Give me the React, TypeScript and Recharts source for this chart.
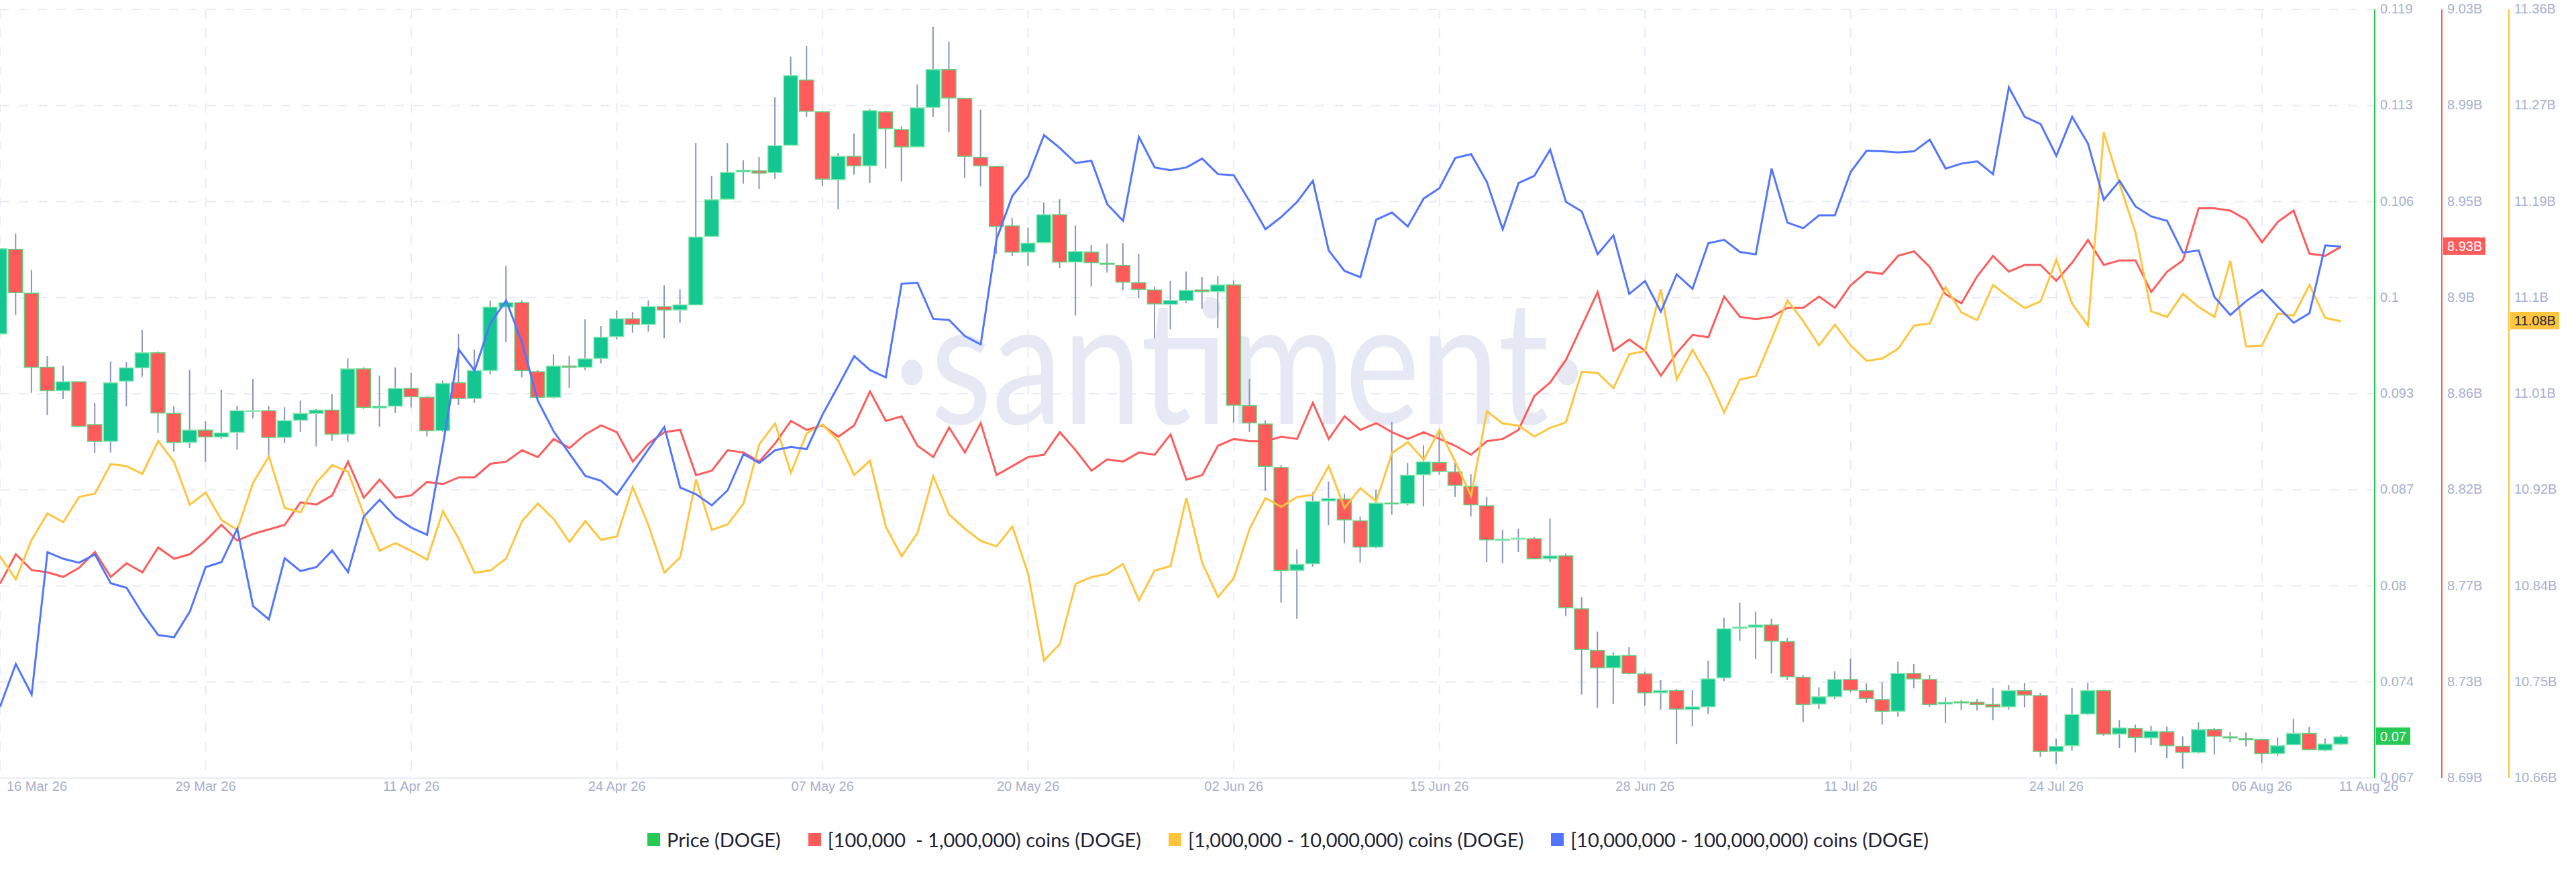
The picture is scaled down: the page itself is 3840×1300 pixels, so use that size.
import { Bar, CartesianGrid, ComposedChart, Legend, Line, XAxis, YAxis } from 'recharts';

const WIDTH = 3840;
const HEIGHT = 1300;

// days since 16 Mar 26
const gridDays = [0, 13, 26, 39, 52, 65, 78, 91, 104, 117, 130, 143];
const tickDays = [...gridDays, 148];
const tickDates = ['16 Mar 26', '29 Mar 26', '11 Apr 26', '24 Apr 26', '07 May 26', '20 May 26', '02 Jun 26', '15 Jun 26', '28 Jun 26', '11 Jul 26', '24 Jul 26', '06 Aug 26', '11 Aug 26'];

const seriesNames = ['Price (DOGE)', '[100,000  - 1,000,000) coins (DOGE)', '[1,000,000 - 10,000,000) coins (DOGE)', '[10,000,000 - 100,000,000) coins (DOGE)'];
const seriesColors = ['#26c953', '#ff5b5b', '#ffc53d', '#5275ff'];

const priceTicks = [0.119, 0.1125, 0.106, 0.0995, 0.093, 0.0865, 0.08, 0.0735, 0.067];
const priceLabels = ['0.119', '0.113', '0.106', '0.1', '0.093', '0.087', '0.08', '0.074', '0.067'];
const smallTicks = [9.03, 8.9875, 8.945, 8.9025, 8.86, 8.8175, 8.775, 8.7325, 8.69];
const smallLabels = ['9.03B', '8.99B', '8.95B', '8.9B', '8.86B', '8.82B', '8.77B', '8.73B', '8.69B'];
const midTicks = [11.36, 11.2725, 11.185, 11.0975, 11.01, 10.9225, 10.835, 10.7475, 10.66];
const midLabels = ['11.36B', '11.27B', '11.19B', '11.1B', '11.01B', '10.92B', '10.84B', '10.75B', '10.66B'];

const priceOpen = [0.09705, 0.10277, 0.0998, 0.09479, 0.09321, 0.09381, 0.09091, 0.08978, 0.09385, 0.09475, 0.09577, 0.09167, 0.08971, 0.09054, 0.09008, 0.09039, 0.09182, 0.09185, 0.09005, 0.09121, 0.09167, 0.09189, 0.09027, 0.09468, 0.09204, 0.09216, 0.09336, 0.09276, 0.0905, 0.09374, 0.09268, 0.09457, 0.09886, 0.09916, 0.09449, 0.09276, 0.09487, 0.09479, 0.09539, 0.09686, 0.09807, 0.09769, 0.09889, 0.09867, 0.09901, 0.10364, 0.10616, 0.10801, 0.10808, 0.10797, 0.10981, 0.11422, 0.11207, 0.10748, 0.10906, 0.10842, 0.11207, 0.11087, 0.1097, 0.11237, 0.11493, 0.11298, 0.10899, 0.10838, 0.10435, 0.10258, 0.10322, 0.10511, 0.10191, 0.10258, 0.10183, 0.10168, 0.10051, 0.10002, 0.09905, 0.09931, 0.10002, 0.09991, 0.10036, 0.09219, 0.09095, 0.08801, 0.08105, 0.0815, 0.08575, 0.08587, 0.0844, 0.08263, 0.0856, 0.08557, 0.08752, 0.08835, 0.08771, 0.08673, 0.08542, 0.08308, 0.08316, 0.08319, 0.08184, 0.08203, 0.07845, 0.07563, 0.07446, 0.07529, 0.07405, 0.07277, 0.07292, 0.07164, 0.07182, 0.07378, 0.07713, 0.07721, 0.07736, 0.07623, 0.07382, 0.07201, 0.0725, 0.07367, 0.07292, 0.07231, 0.07152, 0.07408, 0.07367, 0.07201, 0.07216, 0.07213, 0.07198, 0.07182, 0.07292, 0.07258, 0.06881, 0.06919, 0.07134, 0.07292, 0.06998, 0.07036, 0.06972, 0.07013, 0.06915, 0.06874, 0.07028, 0.06979, 0.06968, 0.0696, 0.06866, 0.06926, 0.07002, 0.06889, 0.0693];
const priceClose = [0.10281, 0.09984, 0.09479, 0.09321, 0.09381, 0.0908, 0.08978, 0.09374, 0.09475, 0.09577, 0.0917, 0.08971, 0.09054, 0.09008, 0.09035, 0.09185, 0.09185, 0.09005, 0.09118, 0.09167, 0.09189, 0.09027, 0.09468, 0.09208, 0.09216, 0.09336, 0.0928, 0.0905, 0.0937, 0.09268, 0.09457, 0.09886, 0.09916, 0.09457, 0.09276, 0.09487, 0.09479, 0.09536, 0.09682, 0.09807, 0.09769, 0.09889, 0.09867, 0.09901, 0.1036, 0.10612, 0.10797, 0.10812, 0.10793, 0.10978, 0.11452, 0.11211, 0.10752, 0.10906, 0.10842, 0.11215, 0.11094, 0.1097, 0.11234, 0.11493, 0.11301, 0.10906, 0.10842, 0.10432, 0.10258, 0.10319, 0.10511, 0.10191, 0.10262, 0.10187, 0.10176, 0.10055, 0.10006, 0.09908, 0.09931, 0.09999, 0.09991, 0.10036, 0.09223, 0.09103, 0.08809, 0.08105, 0.08146, 0.08572, 0.08591, 0.08447, 0.08263, 0.0856, 0.08557, 0.08749, 0.08839, 0.08775, 0.08681, 0.08549, 0.08312, 0.08316, 0.08323, 0.08184, 0.08203, 0.07853, 0.0757, 0.07446, 0.07529, 0.07408, 0.07277, 0.07292, 0.07167, 0.07182, 0.07371, 0.0771, 0.07721, 0.07736, 0.07627, 0.07386, 0.07198, 0.0725, 0.07367, 0.07295, 0.07239, 0.07152, 0.07408, 0.07371, 0.07198, 0.07213, 0.07209, 0.07198, 0.07182, 0.07292, 0.07262, 0.06881, 0.06915, 0.0713, 0.07292, 0.06998, 0.07039, 0.06975, 0.07017, 0.06919, 0.06874, 0.07028, 0.06983, 0.06972, 0.0696, 0.06866, 0.06919, 0.07002, 0.06893, 0.0693, 0.06979];
const priceHigh = [0.10281, 0.10383, 0.10138, 0.09554, 0.0949, 0.09381, 0.09238, 0.09517, 0.09513, 0.09731, 0.09585, 0.09216, 0.0946, 0.09114, 0.09328, 0.09219, 0.094, 0.09219, 0.09208, 0.09253, 0.09197, 0.09298, 0.09539, 0.09479, 0.09423, 0.09479, 0.09441, 0.09283, 0.09389, 0.09705, 0.096, 0.09931, 0.10164, 0.09931, 0.0946, 0.09566, 0.09554, 0.09803, 0.09758, 0.09863, 0.09852, 0.09931, 0.10033, 0.10006, 0.10996, 0.10774, 0.10996, 0.1088, 0.10902, 0.11305, 0.1158, 0.11652, 0.11211, 0.10929, 0.1106, 0.11226, 0.11215, 0.11109, 0.11392, 0.11783, 0.11682, 0.11298, 0.11222, 0.10838, 0.10488, 0.10424, 0.10594, 0.10616, 0.10439, 0.10307, 0.10315, 0.10319, 0.10247, 0.10025, 0.10063, 0.10127, 0.10089, 0.10097, 0.10066, 0.094, 0.09121, 0.08816, 0.08248, 0.08632, 0.08707, 0.08624, 0.0847, 0.08651, 0.0911, 0.08832, 0.08952, 0.09046, 0.08854, 0.08756, 0.08602, 0.0838, 0.08387, 0.08331, 0.08455, 0.08218, 0.07924, 0.07691, 0.07551, 0.07585, 0.0742, 0.07363, 0.07303, 0.07295, 0.07495, 0.07785, 0.07887, 0.07826, 0.07777, 0.07649, 0.07397, 0.07314, 0.07423, 0.0751, 0.07341, 0.07348, 0.07487, 0.07472, 0.07397, 0.07246, 0.07228, 0.07235, 0.0731, 0.07329, 0.07344, 0.07277, 0.06968, 0.0731, 0.07344, 0.07292, 0.07092, 0.07062, 0.07054, 0.07047, 0.06983, 0.07077, 0.07039, 0.07013, 0.07009, 0.06968, 0.06975, 0.071, 0.07047, 0.06968, 0.0699];
const priceLow = [0.09705, 0.09833, 0.09306, 0.09155, 0.09264, 0.0908, 0.08899, 0.08903, 0.09216, 0.09415, 0.09035, 0.08907, 0.08933, 0.08839, 0.08997, 0.08922, 0.09133, 0.08884, 0.08967, 0.09042, 0.08944, 0.08982, 0.08975, 0.09197, 0.09076, 0.0917, 0.09208, 0.09012, 0.09042, 0.09223, 0.09238, 0.0943, 0.09649, 0.09411, 0.09268, 0.09268, 0.0934, 0.0946, 0.09505, 0.09667, 0.09713, 0.0972, 0.09675, 0.0978, 0.09901, 0.10364, 0.10616, 0.10722, 0.10684, 0.10752, 0.10981, 0.11173, 0.10706, 0.10548, 0.10782, 0.10725, 0.10823, 0.10737, 0.1097, 0.11173, 0.11068, 0.10759, 0.10703, 0.10247, 0.10232, 0.10164, 0.10322, 0.10149, 0.09829, 0.10025, 0.10119, 0.09999, 0.09946, 0.09675, 0.09735, 0.09912, 0.09874, 0.09743, 0.09103, 0.09042, 0.08643, 0.07887, 0.07777, 0.08131, 0.0841, 0.08289, 0.08158, 0.08255, 0.08481, 0.08545, 0.08538, 0.08752, 0.08602, 0.0847, 0.08161, 0.08154, 0.08229, 0.0818, 0.08161, 0.07796, 0.07265, 0.07175, 0.07201, 0.07401, 0.0719, 0.07164, 0.0693, 0.07051, 0.07134, 0.07356, 0.07627, 0.07506, 0.07408, 0.07363, 0.07077, 0.07167, 0.07235, 0.0728, 0.07209, 0.07062, 0.07115, 0.07307, 0.07182, 0.07073, 0.0716, 0.07156, 0.07092, 0.07164, 0.07179, 0.06844, 0.06795, 0.06885, 0.07126, 0.06987, 0.06904, 0.06874, 0.06923, 0.06836, 0.06764, 0.06866, 0.06859, 0.06945, 0.06915, 0.06802, 0.06851, 0.06923, 0.06889, 0.06881, 0.06923];

const holdersSmall = [8.776, 8.789, 8.782, 8.781, 8.779, 8.783, 8.79, 8.779, 8.785, 8.781, 8.792, 8.787, 8.789, 8.795, 8.802, 8.795, 8.798, 8.8, 8.802, 8.812, 8.811, 8.815, 8.83, 8.814, 8.822, 8.814, 8.815, 8.821, 8.82, 8.823, 8.823, 8.829, 8.83, 8.835, 8.832, 8.84, 8.836, 8.842, 8.846, 8.843, 8.83, 8.838, 8.843, 8.844, 8.824, 8.826, 8.835, 8.834, 8.83, 8.838, 8.848, 8.844, 8.846, 8.841, 8.846, 8.861, 8.848, 8.85, 8.837, 8.832, 8.845, 8.834, 8.847, 8.824, 8.828, 8.832, 8.833, 8.843, 8.835, 8.826, 8.831, 8.83, 8.834, 8.833, 8.842, 8.822, 8.824, 8.837, 8.84, 8.839, 8.839, 8.841, 8.84, 8.856, 8.84, 8.85, 8.844, 8.847, 8.843, 8.84, 8.843, 8.84, 8.837, 8.833, 8.839, 8.84, 8.844, 8.859, 8.865, 8.875, 8.89, 8.905, 8.879, 8.884, 8.879, 8.868, 8.878, 8.886, 8.885, 8.903, 8.894, 8.893, 8.894, 8.898, 8.898, 8.903, 8.898, 8.908, 8.914, 8.913, 8.921, 8.923, 8.916, 8.904, 8.9, 8.912, 8.921, 8.914, 8.917, 8.917, 8.91, 8.918, 8.928, 8.917, 8.919, 8.919, 8.905, 8.914, 8.919, 8.942, 8.942, 8.941, 8.937, 8.927, 8.936, 8.941, 8.922, 8.921, 8.925];
const holdersMid = [10.862, 10.841, 10.877, 10.901, 10.893, 10.916, 10.919, 10.946, 10.944, 10.937, 10.967, 10.948, 10.909, 10.92, 10.895, 10.886, 10.929, 10.953, 10.906, 10.902, 10.929, 10.945, 10.939, 10.9, 10.867, 10.874, 10.867, 10.859, 10.903, 10.878, 10.847, 10.849, 10.86, 10.894, 10.91, 10.896, 10.875, 10.894, 10.877, 10.88, 10.925, 10.89, 10.847, 10.861, 10.932, 10.886, 10.891, 10.91, 10.964, 10.983, 10.938, 10.974, 10.982, 10.967, 10.936, 10.949, 10.889, 10.862, 10.883, 10.935, 10.9, 10.887, 10.876, 10.871, 10.889, 10.846, 10.767, 10.782, 10.837, 10.843, 10.846, 10.855, 10.822, 10.849, 10.853, 10.915, 10.856, 10.825, 10.842, 10.887, 10.915, 10.907, 10.916, 10.918, 10.944, 10.906, 10.924, 10.912, 10.956, 10.966, 10.95, 10.977, 10.948, 10.917, 10.994, 10.983, 10.981, 10.971, 10.979, 10.984, 11.03, 11.029, 11.015, 11.046, 11.049, 11.105, 11.023, 11.05, 11.025, 10.993, 11.023, 11.026, 11.06, 11.095, 11.076, 11.054, 11.073, 11.054, 11.04, 11.042, 11.051, 11.072, 11.074, 11.107, 11.084, 11.077, 11.109, 11.098, 11.088, 11.094, 11.132, 11.092, 11.072, 11.248, 11.201, 11.157, 11.085, 11.08, 11.101, 11.089, 11.08, 11.131, 11.053, 11.054, 11.083, 11.081, 11.109, 11.079, 11.076];
// no axis in the picture for this one, so the level is relative
const holdersLarge = [20.128, 20.205, 20.15, 20.406, 20.394, 20.387, 20.402, 20.35, 20.342, 20.296, 20.257, 20.253, 20.299, 20.379, 20.388, 20.448, 20.309, 20.285, 20.395, 20.372, 20.379, 20.409, 20.37, 20.47, 20.5, 20.469, 20.45, 20.437, 20.598, 20.77, 20.732, 20.817, 20.858, 20.783, 20.678, 20.623, 20.583, 20.543, 20.534, 20.509, 20.55, 20.591, 20.631, 20.522, 20.51, 20.49, 20.517, 20.582, 20.566, 20.589, 20.595, 20.591, 20.653, 20.705, 20.758, 20.733, 20.72, 20.888, 20.89, 20.825, 20.823, 20.794, 20.779, 20.968, 21.046, 21.081, 21.155, 21.132, 21.105, 21.109, 21.031, 21.001, 21.152, 21.097, 21.092, 21.097, 21.113, 21.085, 21.083, 21.036, 20.986, 21.008, 21.035, 21.073, 20.948, 20.911, 20.9, 21.003, 21.016, 20.991, 21.041, 21.06, 21.114, 21.121, 21.071, 20.986, 21.069, 21.082, 21.129, 21.035, 21.018, 20.941, 20.975, 20.87, 20.893, 20.838, 20.905, 20.879, 20.961, 20.967, 20.945, 20.941, 21.095, 20.998, 20.988, 21.011, 21.011, 21.089, 21.127, 21.126, 21.124, 21.126, 21.147, 21.095, 21.104, 21.108, 21.085, 21.241, 21.188, 21.175, 21.118, 21.188, 21.14, 21.039, 21.073, 21.027, 21.009, 21.001, 20.944, 20.948, 20.864, 20.832, 20.857, 20.877, 20.847, 20.818, 20.835, 20.957, 20.955];

const rows = priceOpen.map((open, i) => ({
  day: i,
  open,
  close: priceClose[i],
  high: priceHigh[i],
  low: priceLow[i],
  range: [priceLow[i], priceHigh[i]],
  small: holdersSmall[i],
  mid: holdersMid[i],
  large: holdersLarge[i],
}));

const TICK_COLOR = '#a7b0cf';
const GRID_COLOR = '#e8ebf5';
const TICK_FONT = 'Liberation Sans, Arial, sans-serif';

function Candle(props: any) {
  const { x, y, width, height, payload } = props;
  const perUnit = height / (payload.high - payload.low);
  const openY = y + (payload.high - payload.open) * perUnit;
  const closeY = y + (payload.high - payload.close) * perUnit;
  const up = payload.close >= payload.open;
  const top = Math.min(openY, closeY);
  const bodyHeight = Math.max(Math.abs(closeY - openY), 1);
  const mid = x + width / 2;
  return (
    <g>
      <line x1={mid} x2={mid} y1={y} y2={y + height} stroke="#8a94b8" strokeWidth={2} />
      <rect
        x={x}
        y={top}
        width={width}
        height={bodyHeight}
        fill={up ? '#14c68f' : '#ff5b5b'}
        stroke={up ? '#8ae8b0' : '#62d07e'}
        strokeWidth={1.5}
      />
    </g>
  );
}

function DateTick(props: any) {
  const { x, y, index } = props;
  const first = index === 0;
  const last = index === tickDates.length - 1;
  return (
    <text
      x={first ? 10 : last ? x + 41 : x}
      y={y}
      dy={11}
      textAnchor={first ? 'start' : 'middle'}
      fontSize={20}
      fontFamily={TICK_FONT}
      fill={TICK_COLOR}
    >
      {tickDates[index]}
    </text>
  );
}

// value ticks, the extra one past the labels is the last value badge
function valueTick(labels: string[], badge: string, badgeLabel: string, badgeWidth: number, badgeText: string) {
  return function ValueTick(props: any) {
    const { x, y, index } = props;
    const left = x - 6;
    if (index >= labels.length) {
      return (
        <g>
          <rect x={left} y={y - 14} width={badgeWidth} height={26} fill={badge} />
          <text x={left + 6} y={y} dy={6} fontSize={20} fontFamily={TICK_FONT} fill={badgeText}>
            {badgeLabel}
          </text>
        </g>
      );
    }
    return (
      <text x={left + 6} y={y} dy={6} fontSize={20} fontFamily={TICK_FONT} fill={TICK_COLOR}>
        {labels[index]}
      </text>
    );
  };
}

function LegendRow() {
  return (
    <div style={{ display: 'flex', justifyContent: 'center', alignItems: 'center', height: 62, fontFamily: 'Lato, sans-serif', fontSize: 29, color: '#1f2335', whiteSpace: 'pre' }}>
      {seriesNames.map((name, i) => (
        <div key={name} style={{ display: 'flex', alignItems: 'center', marginLeft: i === 0 ? 0 : 41 }}>
          <span style={{ width: 19, height: 19, background: seriesColors[i], marginRight: 10 }} />
          <span>{name}</span>
        </div>
      ))}
    </div>
  );
}

export default function App() {
  return (
    <div style={{ position: 'relative', width: WIDTH, height: HEIGHT, background: '#fff' }}>
      <style>{'body{margin:0}'}</style>
      <svg width={WIDTH} height={HEIGHT} style={{ position: 'absolute', left: 0, top: 0 }}>
        <text x={1848} y={632} textAnchor="middle" textLength={1032} lengthAdjust="spacingAndGlyphs" fontSize={258} fontFamily="Lato, sans-serif" fill="#e6e9f3">
          ·santiment·
        </text>
      </svg>
      <ComposedChart width={WIDTH} height={HEIGHT} data={rows} margin={{ top: 14, right: 0, bottom: 0, left: 0 }}>
        <CartesianGrid
          yAxisId="price"
          stroke={GRID_COLOR}
          strokeWidth={2}
          strokeDasharray="14 14"
          verticalValues={gridDays}
          horizontalValues={priceTicks}
        />
        <XAxis
          dataKey="day"
          type="number"
          domain={[0, 150.13]}
          allowDataOverflow
          ticks={tickDays}
          interval={0}
          height={60}
          stroke={GRID_COLOR}
          strokeWidth={2}
          tickLine={false}
          tick={<DateTick />}
        />
        <YAxis
          yAxisId="price"
          orientation="right"
          width={100}
          domain={[0.067, 0.119]}
          ticks={[...priceTicks, priceClose[priceClose.length - 1]]}
          interval={0}
          allowDataOverflow
          tickLine={false}
          stroke={seriesColors[0]}
          strokeWidth={2}
          tick={valueTick(priceLabels, seriesColors[0], '0.07', 51, '#fff')}
        />
        <YAxis
          yAxisId="tierA"
          orientation="right"
          width={100}
          domain={[8.69, 9.03]}
          ticks={[...smallTicks, holdersSmall[holdersSmall.length - 1]]}
          interval={0}
          allowDataOverflow
          tickLine={false}
          stroke={seriesColors[1]}
          strokeWidth={2}
          tick={valueTick(smallLabels, seriesColors[1], '8.93B', 63, '#fff')}
        />
        <YAxis
          yAxisId="tierB"
          orientation="right"
          width={100}
          domain={[10.66, 11.36]}
          ticks={[...midTicks, holdersMid[holdersMid.length - 1]]}
          interval={0}
          allowDataOverflow
          tickLine={false}
          stroke={seriesColors[2]}
          strokeWidth={2}
          tick={valueTick(midLabels, seriesColors[2], '11.08B', 73, '#1f2335')}
        />
        <YAxis yAxisId="tierC" hide domain={[20, 21.381]} allowDataOverflow />
        <Bar yAxisId="price" dataKey="range" barSize={21} shape={<Candle />} isAnimationActive={false} name={seriesNames[0]} />
        <Line yAxisId="tierA" dataKey="small" stroke={seriesColors[1]} strokeWidth={3} dot={false} isAnimationActive={false} name={seriesNames[1]} />
        <Line yAxisId="tierB" dataKey="mid" stroke={seriesColors[2]} strokeWidth={3} dot={false} isAnimationActive={false} name={seriesNames[2]} />
        <Line yAxisId="tierC" dataKey="large" stroke={seriesColors[3]} strokeWidth={3} dot={false} isAnimationActive={false} name={seriesNames[3]} />
        <Legend verticalAlign="bottom" height={80} content={<LegendRow />} />
      </ComposedChart>
    </div>
  );
}
